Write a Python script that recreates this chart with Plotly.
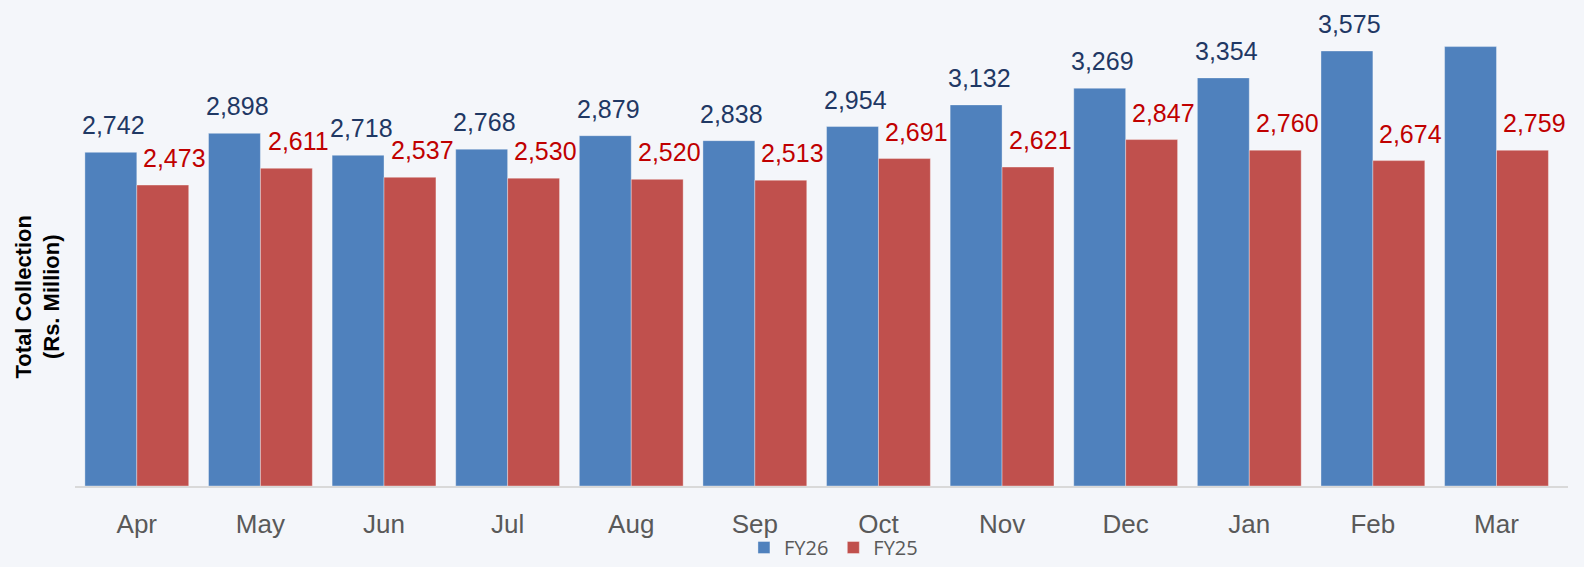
import plotly.graph_objects as go

months = ["Apr", "May", "Jun", "Jul", "Aug", "Sep", "Oct", "Nov", "Dec", "Jan", "Feb", "Mar"]
fy26 = [2742, 2898, 2718, 2768, 2879, 2838, 2954, 3132, 3269, 3354, 3575, 3611]
fy25 = [2473, 2611, 2537, 2530, 2520, 2513, 2691, 2621, 2847, 2760, 2674, 2759]
fy26_labels = ["2,742", "2,898", "2,718", "2,768", "2,879", "2,838", "2,954", "3,132", "3,269", "3,354", "3,575", ""]
fy25_labels = ["2,473", "2,611", "2,537", "2,530", "2,520", "2,513", "2,691", "2,621", "2,847", "2,760", "2,674", "2,759"]

FONT = "Liberation Sans, Arial, sans-serif"
BLUE = "#4F81BD"
RED = "#C0504D"
BG = "#F4F6FA"

fig = go.Figure()
fig.add_trace(go.Bar(x=months, y=fy26, name="FY26", marker=dict(color=BLUE, line=dict(color="rgba(255,255,255,0.35)", width=1))))
fig.add_trace(go.Bar(x=months, y=fy25, name="FY25", marker=dict(color=RED, line=dict(color="rgba(255,255,255,0.35)", width=1))))

for m, v, t in zip(months, fy26, fy26_labels):
    if t:
        fig.add_annotation(x=m, y=v, text=t, showarrow=False, xref="x", yref="y",
                           xanchor="center", yanchor="bottom", xshift=-23, yshift=11,
                           font=dict(family=FONT, size=25, color="#1F3864"))
for m, v, t in zip(months, fy25, fy25_labels):
    fig.add_annotation(x=m, y=v, text=t, showarrow=False, xref="x", yref="y",
                       xanchor="center", yanchor="bottom", xshift=38, yshift=11,
                       font=dict(family=FONT, size=25, color="#C00000"))

fig.add_annotation(x=-0.0248, y=0.39, xref="paper", yref="paper", textangle=-90,
                   text="<b>Total Collection</b><br><b>(Rs. Million)</b>", showarrow=False,
                   xanchor="center", yanchor="middle",
                   font=dict(family=FONT, size=22, color="#000000"))

fig.update_layout(
    width=1584, height=567,
    margin=dict(l=75, r=16, t=0, b=80),
    paper_bgcolor=BG, plot_bgcolor=BG,
    barmode="group", bargap=0.16, bargroupgap=0,
    showlegend=True,
    legend=dict(orientation="h", x=0.508, xanchor="center", y=-0.127, yanchor="middle",
                font=dict(family="Open Sans, sans-serif", size=20, color="#595959"),
                bgcolor="rgba(0,0,0,0)"),
    xaxis=dict(showline=True, linecolor="#D9D9D9", linewidth=2, ticks="",
               tickfont=dict(family=FONT, size=26, color="#595959"),
               ticklabelstandoff=14, showgrid=False),
    yaxis=dict(range=[0, 3994], showticklabels=False, showgrid=False, zeroline=False,
               showline=False, ticks=""),
)

fig.write_html("out.html", config={"displayModeBar": False},
               post_script="document.body.style.margin='0';document.body.style.background='" + BG + "';")
